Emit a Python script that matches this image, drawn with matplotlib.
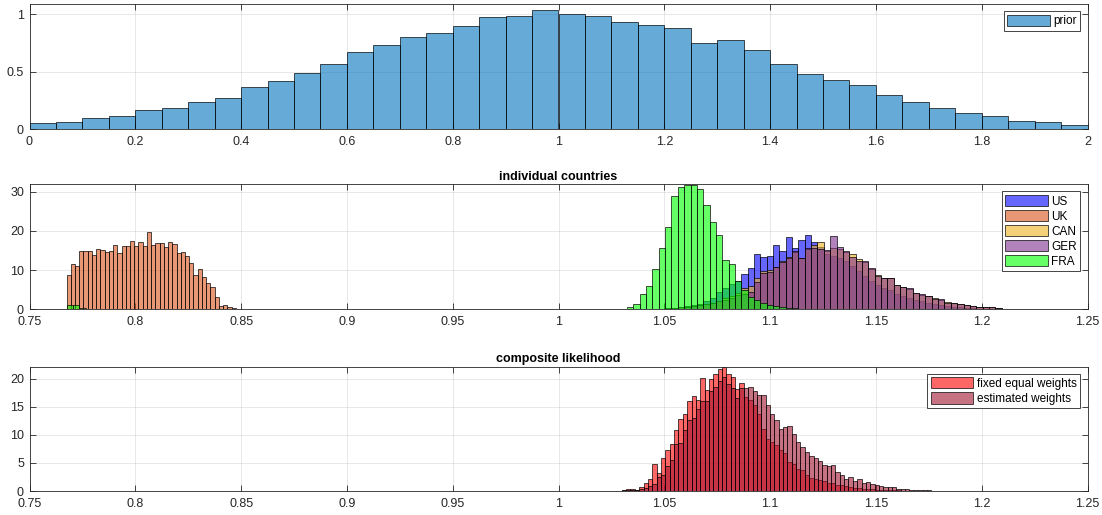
import numpy as np
import matplotlib.pyplot as plt

plt.rcParams['font.family'] = ['Liberation Sans', 'DejaVu Sans']

# ---- top panel: prior (bins of 0.05 from 0 to 2) ----
prior_start, prior_width = 0.0, 0.05
prior = [0.05, 0.065, 0.094, 0.11, 0.165, 0.18, 0.235, 0.27, 0.37, 0.42,
         0.49, 0.57, 0.67, 0.73, 0.80, 0.84, 0.90, 0.98, 0.985, 1.035,
         1.005, 0.985, 0.93, 0.905, 0.88, 0.75, 0.78, 0.685, 0.57, 0.48,
         0.43, 0.38, 0.30, 0.235, 0.185, 0.14, 0.11, 0.07, 0.062, 0.032]

# ---- middle panel: individual countries ----
uk_start, uk_width = 0.7675, 0.002
uk = [8.7, 11.5, 11.1, 15.0, 15.0, 14.9, 13.8, 15.3, 15.1, 14.7, 14.9, 16.5,
      14.4, 16.2, 16.2, 17.4, 16.2, 17.3, 16.2, 19.7, 16.4, 16.8, 16.9, 16.0,
      17.3, 16.6, 14.4, 14.7, 13.5, 11.7, 8.7, 10.3, 8.3, 6.8, 5.6, 3.1, 0.9,
      1.1, 0.7, 0.3, 0.2]

cty_width = 0.003
fra_low_start = 0.7675
fra_low = [1.0, 1.05, 0.25, 0.2, 0.2, 0.15, 0.1]
fra_start = 1.0294
fra = [0.2, 0.5, 1.4, 3.8, 5.9, 10.2, 15.7, 21.1, 28.9, 31.3, 31.8, 31.8,
       30.6, 26.6, 22.2, 18.9, 12.6, 11.5, 7.1, 5.0, 3.2, 2.4, 1.5, 1.2, 0.8,
       0.6, 0.4, 0.3, 0.2, 0.1]

big3_start = 1.0414
us = [0.1, 0.15, 0.2, 0.3, 0.4, 0.6, 0.8, 1.0, 1.4, 2.0, 3.0, 4.5, 5.5, 6.5,
      7.2, 9.0, 10.5, 14.2, 13.4, 13.6, 16.5, 14.8, 18.5, 15.6, 17.8, 19.0,
      17.1, 16.0, 14.0, 13.5, 13.0, 12.2, 11.0, 9.7, 8.4, 7.1, 6.3, 5.5, 4.8,
      4.0, 3.4, 2.9, 2.4, 2.0, 1.7, 1.4, 1.1, 0.9, 0.7, 0.5, 0.4, 0.3, 0.2,
      0.15, 0.1, 0.08, 0.05]
can = [0.1, 0.1, 0.2, 0.3, 0.4, 0.5, 0.7, 0.9, 1.0, 1.3, 1.6, 2.0, 2.8, 3.5,
       4.2, 5.5, 6.0, 8.0, 9.7, 10.0, 10.8, 12.2, 13.3, 14.5, 13.0, 15.3,
       16.3, 17.1, 15.0, 15.6, 15.5, 14.5, 14.0, 12.9, 12.0, 10.3, 8.8, 8.0,
       8.0, 6.3, 5.7, 5.2, 4.2, 3.7, 3.3, 2.8, 2.5, 1.8, 1.5, 1.4, 1.0, 0.9,
       0.7, 0.6, 0.6, 0.3, 0.2, 0.15, 0.12, 0.1, 0.08, 0.06, 0.05, 0.04,
       0.03, 0.03]
ger = [0.1, 0.1, 0.2, 0.3, 0.4, 0.5, 0.7, 0.9, 1.0, 1.3, 1.6, 2.0, 2.5, 3.0,
       3.6, 4.0, 4.5, 7.0, 9.3, 9.6, 10.7, 12.0, 13.0, 15.0, 13.2, 15.6,
       15.6, 15.5, 15.2, 18.6, 15.9, 14.9, 13.3, 12.3, 12.4, 10.5, 8.6, 7.9,
       7.9, 6.2, 5.6, 5.4, 4.2, 3.8, 3.4, 2.7, 2.6, 1.7, 1.5, 1.3, 1.0, 0.9,
       0.7, 0.7, 0.6, 0.3, 0.2, 0.15, 0.12, 0.1, 0.08, 0.06, 0.05, 0.04,
       0.03, 0.03]

# ---- bottom panel: composite likelihood ----
comp_start, comp_width = 1.0299, 0.00206
fixed_w = [0.2, 0.3, 0.35, 0.25, 0.7, 1.5, 2.1, 4.8, 3.2, 5.8, 7.4, 8.3, 10.8,
           12.8, 13.75, 16.1, 17.0, 16.2, 20.1, 18.0, 19.9, 20.8, 21.8, 22.2,
           20.8, 20.4, 18.2, 19.2, 16.8, 16.2, 15.3, 13.8, 11.1, 9.2, 8.75,
           8.2, 7.4, 6.8, 5.2, 4.9, 3.9, 3.8, 2.8, 2.4, 2.2, 1.9, 1.8, 1.5,
           1.4, 1.1, 1.0, 0.9, 0.7, 0.6, 0.5, 0.4, 0.35, 0.3, 0.25, 0.2, 0.2,
           0.15, 0.1, 0.1, 0.08, 0.06, 0.05, 0.05, 0.04, 0.03]
est_w = [0.1, 0.15, 0.2, 0.2, 0.3, 0.5, 0.9, 1.2, 2.5, 2.9, 4.5, 5.5, 8.4,
         8.5, 10.8, 12.6, 13.1, 14.7, 16.0, 16.1, 17.8, 18.6, 19.6, 20.4,
         19.0, 18.3, 16.5, 18.3, 18.3, 18.5, 17.8, 17.1, 17.1, 15.3, 13.7,
         12.6, 11.0, 11.4, 11.6, 10.2, 8.75, 7.9, 7.0, 6.3, 5.8, 5.3, 4.6,
         4.4, 4.6, 3.4, 2.8, 2.2, 2.5, 1.7, 2.1, 1.5, 1.6, 1.3, 1.1, 0.9, 0.8,
         0.7, 0.65, 0.4, 0.35, 0.3, 0.25, 0.2, 0.15, 0.12, 0.1, 0.08, 0.06,
         0.05, 0.04, 0.03, 0.03, 0.02, 0.02]

top_xticks = [0, 0.2, 0.4, 0.6, 0.8, 1, 1.2, 1.4, 1.6, 1.8, 2]
top_yticks = [0, 0.5, 1]
mid_xticks = [0.75, 0.8, 0.85, 0.9, 0.95, 1, 1.05, 1.1, 1.15, 1.2, 1.25]
mid_yticks = [0, 10, 20, 30]
bot_yticks = [0, 5, 10, 15, 20]

col_prior = (0.0, 0.447, 0.741)
col_us = (0.0, 0.0, 1.0)
col_uk = (0.85, 0.325, 0.098)
col_can = (0.929, 0.694, 0.125)
col_ger = (0.494, 0.184, 0.556)
col_fra = (0.0, 1.0, 0.0)
col_fixed = (1.0, 0.0, 0.0)
col_est = (0.635, 0.078, 0.184)
axcol = (0.15, 0.15, 0.15)


def hist_bars(ax, start, width, vals, color, label=None):
    left = start + width * np.arange(len(vals))
    return ax.bar(left, vals, width=width, align='edge', facecolor=color + (0.6,),
                  edgecolor=(0, 0, 0, 0.8), linewidth=0.6, label=label)


def style(ax, xt, yt, xlim, ylim):
    ax.set_xlim(*xlim)
    ax.set_ylim(*ylim)
    ax.set_xticks(xt)
    ax.set_xticklabels(['%g' % v for v in xt])
    ax.set_yticks(yt)
    ax.set_yticklabels(['%g' % v for v in yt])
    ax.set_axisbelow(True)
    ax.grid(True, color=axcol, alpha=0.12, linewidth=0.6)
    ax.tick_params(direction='in', length=4, width=0.6, colors=axcol,
                   labelsize=9, top=True, right=True)
    ax.tick_params(axis='x', pad=5)
    ax.tick_params(axis='y', pad=4)
    for s in ax.spines.values():
        s.set_color(axcol)
        s.set_linewidth(0.6)


def legend(ax):
    leg = ax.legend(loc='upper right', fontsize=8.5, fancybox=False,
                    edgecolor=axcol, framealpha=1, handlelength=3.6,
                    handleheight=1.1, labelspacing=0.2, borderpad=0.3,
                    handletextpad=0.3, borderaxespad=0.6)
    leg.get_frame().set_linewidth(0.6)


fig = plt.figure(figsize=(11.02, 5.15), dpi=100)
L, W = 29.5 / 1102, (1087.5 - 29.5) / 1102

ax1 = fig.add_axes([L, 1 - 129 / 515, W, 125 / 515])
hist_bars(ax1, prior_start, prior_width, prior, col_prior, 'prior')
style(ax1, top_xticks, top_yticks, (0, 2), (0, 1.09))
legend(ax1)

ax2 = fig.add_axes([L, 1 - 309.3 / 515, W, 125 / 515])
hist_bars(ax2, big3_start, cty_width, us, col_us, 'US')
hist_bars(ax2, uk_start, uk_width, uk, col_uk, 'UK')
hist_bars(ax2, big3_start, cty_width, can, col_can, 'CAN')
hist_bars(ax2, big3_start, cty_width, ger, col_ger, 'GER')
hist_bars(ax2, fra_start, cty_width, fra, col_fra, 'FRA')
hist_bars(ax2, fra_low_start, cty_width, fra_low, col_fra)
style(ax2, mid_xticks, mid_yticks, (0.75, 1.25), (0, 31.9))
ax2.set_title('individual countries', fontsize=9, fontweight='bold', pad=3)
legend(ax2)

ax3 = fig.add_axes([L, 1 - 491 / 515, W, 124.5 / 515])
hist_bars(ax3, comp_start, comp_width, fixed_w, col_fixed, 'fixed equal weights')
hist_bars(ax3, comp_start, comp_width, est_w, col_est, 'estimated weights')
style(ax3, mid_xticks, bot_yticks, (0.75, 1.25), (0, 22.2))
ax3.set_title('composite likelihood', fontsize=9, fontweight='bold', pad=3)
legend(ax3)

fig.savefig('out.png', dpi=100)
